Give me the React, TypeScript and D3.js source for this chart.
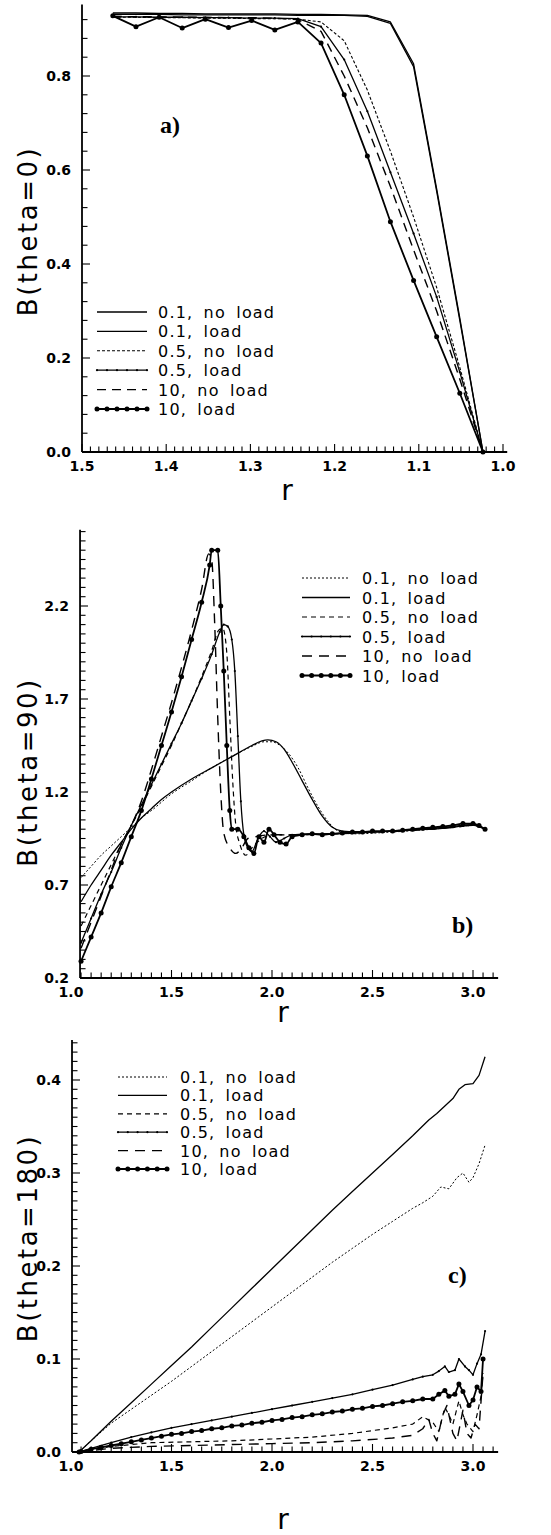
import React from 'react';
import * as d3 from 'd3';

type Pt = [number, number];

const seriesLabels = ['0.1, no load', '0.1, load', '0.5, no load', '0.5, load', '10, no load', '10, load'];

// ---------- panel a: B(theta=0), r runs from 1.5 down to 1.0
const aR = [1.4634, 1.4359, 1.4084, 1.381, 1.3535, 1.326, 1.2985, 1.271, 1.2436, 1.2161, 1.1886, 1.1611, 1.1337, 1.1062, 1.0788, 1.0513, 1.0238];
const a01NoLoad = [0.934, 0.934, 0.933, 0.933, 0.932, 0.932, 0.932, 0.932, 0.931, 0.931, 0.93, 0.929, 0.915, 0.826, 0.56, 0.285, 0];
const a01Load = [0.931, 0.931, 0.931, 0.93, 0.93, 0.93, 0.93, 0.93, 0.929, 0.929, 0.929, 0.927, 0.912, 0.82, 0.555, 0.28, 0];
const a05NoLoad = [0.925, 0.925, 0.924, 0.924, 0.923, 0.923, 0.922, 0.922, 0.921, 0.915, 0.875, 0.77, 0.64, 0.5, 0.35, 0.18, 0];
const a05Load = [0.926, 0.926, 0.925, 0.925, 0.924, 0.924, 0.923, 0.923, 0.922, 0.905, 0.835, 0.725, 0.595, 0.465, 0.33, 0.17, 0];
const a10NoLoad = [0.927, 0.926, 0.926, 0.925, 0.925, 0.924, 0.924, 0.923, 0.92, 0.895, 0.8, 0.69, 0.565, 0.43, 0.3, 0.155, 0];
const a10Load = [0.928, 0.905, 0.925, 0.902, 0.921, 0.903, 0.918, 0.898, 0.915, 0.87, 0.76, 0.63, 0.49, 0.365, 0.245, 0.125, 0];
const aXTicks = [1.5, 1.4, 1.3, 1.2, 1.1, 1.0];
const aYTicks = [0.0, 0.2, 0.4, 0.6, 0.8];

// ---------- panel b: B(theta=90)
const b01NoLoad: Pt[] = [[1.05, 0.74], [1.1, 0.8], [1.15, 0.86], [1.2, 0.91], [1.25, 0.96], [1.3, 1.01], [1.35, 1.06], [1.4, 1.1], [1.5, 1.19], [1.6, 1.26], [1.7, 1.33], [1.8, 1.39], [1.9, 1.445], [1.96, 1.47], [2.0, 1.47], [2.04, 1.45], [2.08, 1.41], [2.13, 1.33], [2.18, 1.22], [2.23, 1.12], [2.28, 1.04], [2.33, 0.99], [2.4, 0.975], [2.6, 0.985], [2.8, 1.0], [3.0, 1.02], [3.06, 1.0]];
const b01Load: Pt[] = [[1.05, 0.61], [1.1, 0.7], [1.15, 0.78], [1.2, 0.86], [1.25, 0.93], [1.3, 1.0], [1.35, 1.06], [1.4, 1.11], [1.45, 1.16], [1.5, 1.2], [1.6, 1.27], [1.7, 1.33], [1.8, 1.39], [1.9, 1.45], [1.95, 1.475], [1.98, 1.48], [2.02, 1.47], [2.06, 1.43], [2.1, 1.36], [2.15, 1.26], [2.2, 1.16], [2.25, 1.07], [2.3, 1.01], [2.35, 0.99], [2.45, 0.985], [2.6, 0.99], [2.75, 1.0], [2.9, 1.015], [3.0, 1.025], [3.06, 1.0]];
const b05NoLoad: Pt[] = [[1.05, 0.48], [1.1, 0.59], [1.15, 0.7], [1.2, 0.81], [1.25, 0.92], [1.3, 1.02], [1.35, 1.12], [1.4, 1.23], [1.45, 1.34], [1.5, 1.45], [1.55, 1.57], [1.6, 1.69], [1.65, 1.82], [1.7, 1.96], [1.735, 2.07], [1.755, 2.08], [1.775, 1.95], [1.79, 1.6], [1.805, 1.25], [1.82, 1.02], [1.84, 0.92], [1.87, 0.86], [1.9, 0.9], [1.95, 0.95], [2.0, 0.97], [2.1, 0.97], [2.3, 0.975], [2.5, 0.985], [2.7, 0.995], [2.9, 1.01], [3.0, 1.02], [3.06, 1.0]];
const b05Load: Pt[] = [[1.05, 0.39], [1.1, 0.52], [1.15, 0.65], [1.2, 0.77], [1.25, 0.9], [1.3, 1.02], [1.35, 1.13], [1.4, 1.24], [1.45, 1.35], [1.5, 1.46], [1.55, 1.57], [1.6, 1.69], [1.65, 1.81], [1.7, 1.94], [1.74, 2.06], [1.76, 2.1], [1.78, 2.09], [1.8, 2.02], [1.815, 1.85], [1.83, 1.5], [1.845, 1.15], [1.86, 0.97], [1.88, 0.9], [1.9, 0.88], [1.93, 0.95], [1.96, 0.99], [1.99, 0.96], [2.02, 0.93], [2.06, 0.95], [2.1, 0.97], [2.2, 0.975], [2.3, 0.975], [2.5, 0.985], [2.7, 0.995], [2.9, 1.01], [3.0, 1.025], [3.06, 1.0]];
const b10NoLoad: Pt[] = [[1.05, 0.36], [1.1, 0.5], [1.15, 0.64], [1.2, 0.78], [1.25, 0.92], [1.3, 1.02], [1.35, 1.15], [1.4, 1.32], [1.45, 1.5], [1.5, 1.68], [1.55, 1.87], [1.6, 2.07], [1.65, 2.29], [1.685, 2.48], [1.7, 2.45], [1.715, 2.1], [1.73, 1.6], [1.745, 1.2], [1.76, 0.98], [1.79, 0.9], [1.82, 0.87], [1.85, 0.9], [1.88, 0.95], [1.92, 0.96], [2.0, 0.97], [2.1, 0.97], [2.3, 0.975], [2.5, 0.985], [2.7, 0.995], [2.9, 1.01], [3.0, 1.02], [3.06, 1.0]];
const b10Load: Pt[] = [[1.05, 0.29], [1.1, 0.42], [1.15, 0.55], [1.2, 0.69], [1.25, 0.82], [1.3, 0.96], [1.35, 1.1], [1.4, 1.27], [1.45, 1.45], [1.5, 1.63], [1.55, 1.82], [1.6, 2.02], [1.65, 2.22], [1.69, 2.42], [1.7, 2.5], [1.73, 2.5], [1.745, 2.2], [1.76, 1.85], [1.775, 1.45], [1.79, 1.1], [1.8, 1.0], [1.83, 1.0], [1.86, 0.96], [1.885, 0.9], [1.91, 0.87], [1.935, 0.96], [1.96, 0.93], [1.985, 1.0], [2.01, 0.97], [2.04, 0.93], [2.07, 0.92], [2.1, 0.96], [2.15, 0.97], [2.2, 0.975], [2.25, 0.97], [2.3, 0.975], [2.35, 0.98], [2.4, 0.985], [2.45, 0.985], [2.5, 0.99], [2.55, 0.99], [2.6, 0.99], [2.65, 0.995], [2.7, 1.0], [2.75, 1.005], [2.8, 1.01], [2.85, 1.015], [2.9, 1.02], [2.95, 1.03], [3.0, 1.03], [3.03, 1.02], [3.06, 1.0]];
const bXTicks = [1.0, 1.5, 2.0, 2.5, 3.0];
const bYTicks = [0.2, 0.7, 1.2, 1.7, 2.2];

// ---------- panel c: B(theta=180)
const c01NoLoad: Pt[] = [[1.04, 0], [1.1, 0.012], [1.2, 0.031], [1.3, 0.046], [1.4, 0.061], [1.5, 0.076], [1.6, 0.092], [1.7, 0.108], [1.8, 0.124], [1.9, 0.14], [2.0, 0.156], [2.1, 0.172], [2.2, 0.188], [2.3, 0.204], [2.4, 0.219], [2.5, 0.234], [2.6, 0.248], [2.7, 0.262], [2.75, 0.268], [2.8, 0.275], [2.84, 0.285], [2.88, 0.283], [2.92, 0.295], [2.95, 0.3], [2.98, 0.29], [3.0, 0.295], [3.03, 0.31], [3.06, 0.33]];
const c01Load: Pt[] = [[1.04, 0], [1.1, 0.012], [1.2, 0.033], [1.3, 0.053], [1.4, 0.073], [1.5, 0.093], [1.6, 0.113], [1.7, 0.134], [1.8, 0.155], [1.9, 0.176], [2.0, 0.197], [2.1, 0.218], [2.2, 0.239], [2.3, 0.26], [2.4, 0.28], [2.5, 0.3], [2.6, 0.32], [2.7, 0.34], [2.78, 0.357], [2.82, 0.364], [2.86, 0.372], [2.9, 0.38], [2.93, 0.39], [2.96, 0.395], [3.0, 0.396], [3.03, 0.405], [3.06, 0.425]];
const c05NoLoad: Pt[] = [[1.04, 0], [1.2, 0.006], [1.4, 0.01], [1.6, 0.011], [1.8, 0.012], [2.0, 0.014], [2.2, 0.016], [2.4, 0.02], [2.6, 0.026], [2.7, 0.03], [2.75, 0.038], [2.8, 0.032], [2.83, 0.022], [2.86, 0.048], [2.88, 0.04], [2.9, 0.03], [2.93, 0.055], [2.95, 0.04], [2.97, 0.03], [3.0, 0.022], [3.02, 0.04], [3.04, 0.06], [3.05, 0.085]];
const c05Load: Pt[] = [[1.04, 0], [1.1, 0.004], [1.2, 0.01], [1.3, 0.016], [1.4, 0.021], [1.5, 0.026], [1.6, 0.03], [1.7, 0.034], [1.8, 0.038], [1.9, 0.042], [2.0, 0.046], [2.1, 0.05], [2.2, 0.054], [2.3, 0.058], [2.4, 0.062], [2.5, 0.067], [2.6, 0.072], [2.7, 0.078], [2.75, 0.081], [2.8, 0.083], [2.83, 0.087], [2.86, 0.092], [2.88, 0.086], [2.91, 0.088], [2.93, 0.1], [2.96, 0.092], [2.98, 0.088], [3.0, 0.083], [3.02, 0.095], [3.04, 0.105], [3.06, 0.13]];
const c10NoLoad: Pt[] = [[1.04, 0], [1.2, 0.004], [1.4, 0.006], [1.6, 0.007], [1.8, 0.008], [2.0, 0.009], [2.2, 0.01], [2.4, 0.012], [2.6, 0.015], [2.7, 0.018], [2.75, 0.025], [2.78, 0.035], [2.8, 0.02], [2.82, 0.012], [2.85, 0.04], [2.87, 0.05], [2.9, 0.02], [2.92, 0.012], [2.95, 0.045], [2.97, 0.02], [2.99, 0.015], [3.01, 0.03], [3.03, 0.025], [3.05, 0.085]];
const c10Load: Pt[] = [[1.04, 0], [1.05, 0.0005], [1.1, 0.003], [1.15, 0.005], [1.2, 0.007], [1.25, 0.009], [1.3, 0.011], [1.35, 0.013], [1.4, 0.015], [1.45, 0.017], [1.5, 0.019], [1.55, 0.02], [1.6, 0.022], [1.65, 0.023], [1.7, 0.025], [1.75, 0.026], [1.8, 0.028], [1.85, 0.029], [1.9, 0.031], [1.95, 0.032], [2.0, 0.034], [2.05, 0.035], [2.1, 0.037], [2.15, 0.038], [2.2, 0.04], [2.25, 0.041], [2.3, 0.043], [2.35, 0.044], [2.4, 0.046], [2.45, 0.047], [2.5, 0.049], [2.55, 0.05], [2.6, 0.052], [2.65, 0.054], [2.7, 0.055], [2.75, 0.057], [2.8, 0.057], [2.83, 0.062], [2.86, 0.066], [2.88, 0.06], [2.91, 0.062], [2.93, 0.073], [2.95, 0.065], [2.98, 0.05], [3.0, 0.056], [3.02, 0.07], [3.04, 0.065], [3.05, 0.1]];
const cXTicks = [1.0, 1.5, 2.0, 2.5, 3.0];
const cYTicks = [0.0, 0.1, 0.2, 0.3, 0.4];

interface LineStyle {
  dash?: string;
  w: number;
  dot?: number;
}

const stylesA: LineStyle[] = [
  {w: 1.3},
  {w: 1.3},
  {dash: '3,2', w: 1.1},
  {w: 1.3, dot: 1.1},
  {dash: '9,6', w: 1.4},
  {w: 1.8, dot: 2.5},
];
const stylesBC: LineStyle[] = [
  {dash: '2,2', w: 1},
  {w: 1.3},
  {dash: '5,4', w: 1.2},
  {w: 1.3, dot: 1.1},
  {dash: '10,7', w: 1.4},
  {w: 1.8, dot: 2.5},
];

const tickFont = "'DejaVu Sans', sans-serif";

interface PanelProps {
  x: d3.ScaleLinear<number, number>;
  y: d3.ScaleLinear<number, number>;
  xExtent: [number, number];
  yExtent: [number, number];
  xMinor: number[];
  yMinor: number[];
  xTicks: number[];
  yTicks: number[];
  series: Pt[][];
  styles: LineStyle[];
  curve: d3.CurveFactory;
  legend: {x0: number; x1: number; tx: number; y0: number; dy: number};
  title: string;
  titlePos: [number, number];
  rPos: [number, number];
  tag: string;
  tagPos: [number, number];
}

const Panel: React.FC<PanelProps> = (p) => {
  const {x, y} = p;
  const ax = x(p.xExtent[0]);
  const axEnd = x(p.xExtent[1]);
  const by = y(p.yExtent[0]);
  const topY = y(p.yExtent[1]);
  const line = d3
    .line<Pt>()
    .x((d) => x(d[0]))
    .y((d) => y(d[1]))
    .curve(p.curve);
  const isMajX = (v: number) => p.xTicks.some((t) => Math.abs(t - v) < 1e-6);
  const isMajY = (v: number) => p.yTicks.some((t) => Math.abs(t - v) < 1e-6);
  const lg = p.legend;

  return (
    <g>
      {/* axes */}
      <line x1={ax} x2={axEnd} y1={by} y2={by} stroke="#000" strokeWidth={1.8} />
      <line x1={ax} x2={ax} y1={by} y2={topY} stroke="#000" strokeWidth={1.8} />
      {p.xMinor.map((v, i) => (
        <line key={'xm' + i} x1={x(v)} x2={x(v)} y1={by} y2={by - (isMajX(v) ? 8 : 5.5)} stroke="#000" strokeWidth={1.1} />
      ))}
      {p.yMinor.map((v, i) => (
        <line key={'ym' + i} x1={ax} x2={ax + (isMajY(v) ? 8 : 5.5)} y1={y(v)} y2={y(v)} stroke="#000" strokeWidth={1.1} />
      ))}
      {p.xTicks.map((v) => (
        <text key={'xt' + v} x={x(v)} y={by + 19} textAnchor="middle" fontFamily={tickFont} fontWeight="bold" fontSize={14}>
          {v.toFixed(1)}
        </text>
      ))}
      {p.yTicks.map((v) => (
        <text key={'yt' + v} x={ax - 11} y={y(v) + 5} textAnchor="end" fontFamily={tickFont} fontWeight="bold" fontSize={14}>
          {v.toFixed(1)}
        </text>
      ))}
      <text
        transform={`translate(${p.titlePos[0]},${p.titlePos[1]}) rotate(-90)`}
        textAnchor="middle"
        dominantBaseline="central"
        fontFamily={tickFont}
        fontSize={26}
        letterSpacing={2.5}
      >
        {p.title}
      </text>
      <text x={p.rPos[0]} y={p.rPos[1]} textAnchor="middle" fontFamily={tickFont} fontSize={28}>
        r
      </text>
      <text x={p.tagPos[0]} y={p.tagPos[1]} fontFamily="'Liberation Serif', serif" fontWeight="bold" fontSize={24}>
        {p.tag}
      </text>

      {/* curves */}
      {p.series.map((pts, i) => {
        const s = p.styles[i];
        return (
          <g key={'s' + i}>
            <path d={line(pts) || ''} fill="none" stroke="#000" strokeWidth={s.w} strokeDasharray={s.dash} strokeLinejoin="round" />
            {s.dot
              ? pts.map((d, j) => <circle key={j} cx={x(d[0])} cy={y(d[1])} r={s.dot} fill="#000" />)
              : null}
          </g>
        );
      })}

      {/* legend */}
      {seriesLabels.map((lab, i) => {
        const s = p.styles[i];
        const ly = lg.y0 + i * lg.dy;
        return (
          <g key={'lg' + i}>
            <line x1={lg.x0} x2={lg.x1} y1={ly} y2={ly} stroke="#000" strokeWidth={s.w} strokeDasharray={s.dash} />
            {s.dot
              ? d3.range(lg.x0, lg.x1 + 0.1, (lg.x1 - lg.x0) / 5).map((cx, j) => (
                  <circle key={j} cx={cx} cy={ly} r={s.dot} fill="#000" />
                ))
              : null}
            <text
              x={lg.tx}
              y={ly + 6}
              fontFamily={tickFont}
              fontSize={16}
              letterSpacing={1.2}
              wordSpacing={4}
            >
              {lab}
            </text>
          </g>
        );
      })}
    </g>
  );
};

export default function App() {
  // panel a scales
  const xA = d3.scaleLinear().domain([1.5, 1.0]).range([82, 503]);
  const yA = d3.scaleLinear().domain([0, 0.8]).range([452, 76]);
  const seriesA: Pt[][] = [a01NoLoad, a01Load, a05NoLoad, a05Load, a10NoLoad, a10Load].map((vals) =>
    vals.map((v, i) => [aR[i], v] as Pt),
  );

  // panel b scales
  const xB = d3.scaleLinear().domain([1.0, 3.0]).range([71, 473]);
  const yB = d3.scaleLinear().domain([0.2, 2.2]).range([978, 606]);

  // panel c scales
  const xC = d3.scaleLinear().domain([1.0, 3.0]).range([71, 473]);
  const yC = d3.scaleLinear().domain([0, 0.4]).range([1452, 1080]);

  const stepRange = (a: number, b: number, s: number) =>
    d3.range(Math.round((b - a) / s) + 1).map((i) => +(a + i * s).toFixed(4));

  return (
    <svg
      width={551}
      height={1535}
      style={{position: 'absolute', left: 0, top: 0, background: '#fff'}}
    >
      <Panel
        x={xA}
        y={yA}
        xExtent={[1.5, 0.995]}
        yExtent={[0, 0.952]}
        xMinor={stepRange(1.0, 1.5, 0.01)}
        yMinor={stepRange(0, 0.92, 0.04)}
        xTicks={aXTicks}
        yTicks={aYTicks}
        series={seriesA}
        styles={stylesA}
        curve={d3.curveLinear}
        legend={{x0: 97, x1: 147, tx: 158, y0: 312, dy: 19.4}}
        title="B(theta=0)"
        titlePos={[28, 231]}
        rPos={[287, 500]}
        tag="a)"
        tagPos={[160, 133]}
      />
      <Panel
        x={xB}
        y={yB}
        xExtent={[1.045, 3.125]}
        yExtent={[0.2, 2.61]}
        xMinor={stepRange(1.05, 3.1, 0.05)}
        yMinor={stepRange(0.2, 2.6, 0.05)}
        xTicks={bXTicks}
        yTicks={bYTicks}
        series={[b01NoLoad, b01Load, b05NoLoad, b05Load, b10NoLoad, b10Load]}
        styles={stylesBC}
        curve={d3.curveMonotoneX}
        legend={{x0: 302, x1: 350, tx: 362, y0: 578, dy: 19.5}}
        title="B(theta=90)"
        titlePos={[28, 772]}
        rPos={[283, 1022]}
        tag="b)"
        tagPos={[452, 933]}
      />
      <Panel
        x={xC}
        y={yC}
        xExtent={[1.005, 3.125]}
        yExtent={[0, 0.443]}
        xMinor={stepRange(1.05, 3.1, 0.05)}
        yMinor={stepRange(0, 0.44, 0.01)}
        xTicks={cXTicks}
        yTicks={cYTicks}
        series={[c01NoLoad, c01Load, c05NoLoad, c05Load, c10NoLoad, c10Load]}
        styles={stylesBC}
        curve={d3.curveLinear}
        legend={{x0: 118, x1: 167, tx: 180, y0: 1077, dy: 18.4}}
        title="B(theta=180)"
        titlePos={[28, 1238]}
        rPos={[283, 1529]}
        tag="c)"
        tagPos={[448, 1283]}
      />
    </svg>
  );
}
